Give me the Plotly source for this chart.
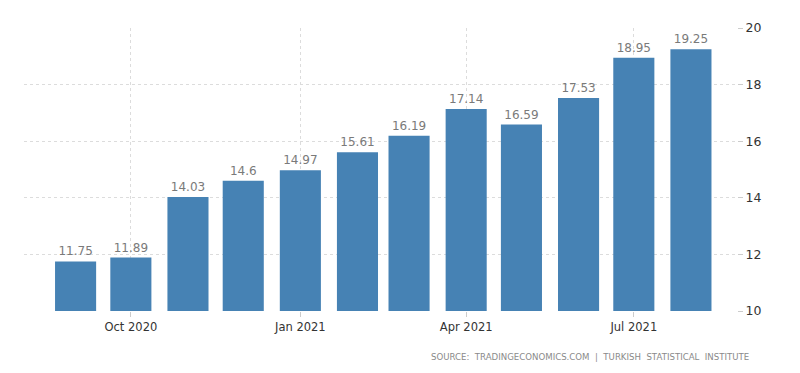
import plotly.graph_objects as go

months = ["2020-09-01", "2020-10-01", "2020-11-01", "2020-12-01", "2021-01-01", "2021-02-01",
          "2021-03-01", "2021-04-01", "2021-05-01", "2021-06-01", "2021-07-01", "2021-08-01"]
values = [11.75, 11.89, 14.03, 14.6, 14.97, 15.61, 16.19, 17.14, 16.59, 17.53, 18.95, 19.25]
labels = ["11.75", "11.89", "14.03", "14.6", "14.97", "15.61", "16.19", "17.14", "16.59", "17.53", "18.95", "19.25"]
tick_dates = ["2020-10-01", "2021-01-01", "2021-04-01", "2021-07-01"]
tick_text = ["Oct 2020", "Jan 2021", "Apr 2021", "Jul 2021"]
y_ticks = [10, 12, 14, 16, 18, 20]

FONT = "DejaVu Sans"
DAY_MS = 86400000

fig = go.Figure(go.Bar(
    x=months, y=values, text=labels, textposition="outside",
    textfont=dict(color="#7a7a7a", size=12, family=FONT),
    marker=dict(color="#4682b4", line=dict(width=0)),
    width=22.3 * DAY_MS, cliponaxis=False,
))

L, T, R, B = 16, 13, 71, 70
pw = 800 - L - R
ph = 373 - T - B

fig.update_layout(
    width=800, height=373,
    margin=dict(l=L, r=R, t=T, b=B),
    paper_bgcolor="white", plot_bgcolor="white",
    showlegend=False,
    font=dict(family=FONT, color="#333333", size=12),
    xaxis=dict(
        type="date", range=["2020-08-04", "2021-08-26"],
        tickvals=tick_dates, ticktext=tick_text,
        showgrid=True, gridcolor="#dcdcdc", griddash="dot", gridwidth=1,
        ticks="outside", ticklen=5, tickcolor="#cccccc",
        showline=False, zeroline=False,
        tickfont=dict(size=11.5, color="#333333", family=FONT),
    ),
    yaxis=dict(
        side="right", range=[10, 20], tickvals=y_ticks,
        showgrid=True, gridcolor="#dcdcdc", griddash="dot", gridwidth=1,
        ticks="outside", ticklen=5, tickcolor="#cccccc",
        zeroline=False, showline=False,
        tickfont=dict(size=12.5, color="#333333", family=FONT),
    ),
    annotations=[dict(
        text="SOURCE:  TRADINGECONOMICS.COM  |  TURKISH  STATISTICAL  INSTITUTE",
        xref="paper", yref="paper", x=(743 - L) / pw, y=-(350 - (T + ph)) / ph,
        xanchor="right", yanchor="middle", showarrow=False,
        font=dict(size=8.6, color="#8a8a8a", family=FONT),
    )],
)

fig.write_html("out.html")
